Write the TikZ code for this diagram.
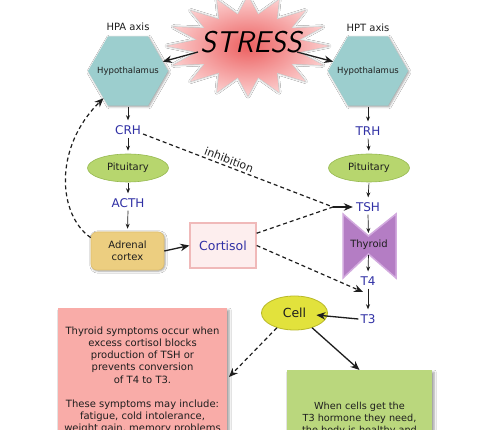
\documentclass[tikz,border=0pt]{standalone}
\usepackage{fontspec}
\setmainfont{DejaVu Sans}
\usetikzlibrary{arrows.meta,shapes.geometric,shadows.blur}
\definecolor{hexc}{RGB}{156,206,206}
\definecolor{pitc}{RGB}{183,214,110}
\definecolor{pitb}{RGB}{150,185,80}
\definecolor{adrc}{RGB}{236,206,128}
\definecolor{adrb}{RGB}{222,190,110}
\definecolor{cortf}{RGB}{253,238,238}
\definecolor{cortb}{RGB}{240,185,185}
\definecolor{thyc}{RGB}{180,125,196}
\definecolor{thyb}{RGB}{210,170,222}
\definecolor{cellc}{RGB}{226,226,60}
\definecolor{cellb}{RGB}{185,185,40}
\definecolor{pinkc}{RGB}{249,172,168}
\definecolor{greenc}{RGB}{186,215,125}
\definecolor{hormc}{RGB}{48,48,165}
\definecolor{txtc}{RGB}{30,30,30}
\definecolor{starin}{RGB}{236,96,96}
\definecolor{starout}{RGB}{252,208,208}
\begin{document}
\begin{tikzpicture}[x=1pt,y=-1pt,
  hexa/.style={regular polygon, regular polygon sides=6, minimum size=80pt, inner sep=0pt,
    fill=hexc, font=\fontsize{8.5}{10}\selectfont, text=txtc, blur shadow={shadow xshift=1pt, shadow yshift=-1pt}},
  horm/.style={font=\fontsize{12}{14}\selectfont, text=hormc, inner sep=2pt},
  axislbl/.style={font=\fontsize{10}{12}\selectfont, text=txtc},
  pit/.style={ellipse, minimum width=81pt, minimum height=28pt, inner sep=0pt, fill=pitc, draw=pitb,
    line width=0.6pt, font=\fontsize{10}{12}\selectfont, text=txtc},
  adrbox/.style={rectangle, rounded corners=6pt, minimum width=73pt, minimum height=38pt, fill=adrc, draw=adrb,
    line width=0.6pt, align=center, font=\fontsize{10}{12}\selectfont, text=txtc, blur shadow={shadow xshift=1pt, shadow yshift=-1pt}},
  cortbox/.style={rectangle, minimum width=66pt, minimum height=45pt, fill=cortf, draw=cortb, line width=1.3pt,
    font=\fontsize{12.5}{14}\selectfont, text=hormc},
  thylbl/.style={font=\fontsize{10}{12}\selectfont, text=txtc},
  cellnode/.style={ellipse, minimum width=66pt, minimum height=34pt, inner sep=0pt, fill=cellc, draw=cellb,
    line width=0.8pt, font=\fontsize{12.5}{14}\selectfont, text=txtc},
  bigbox/.style={rectangle, anchor=north, inner sep=0pt, blur shadow={shadow xshift=2pt, shadow yshift=-2pt}},
  boxtext/.style={anchor=north, align=center, inner sep=0pt, text=txtc},
  sarrow/.style={-{Stealth[length=5pt,width=4pt]}, line width=0.7pt, draw=txtc, shorten >=3pt, shorten <=1pt},
  barrow/.style={-{Stealth[length=9pt,width=7.5pt]}, line width=1.3pt, draw=txtc},
  darrow/.style={-{Stealth[length=9pt,width=7.5pt]}, dash pattern=on 4pt off 3pt, line width=1.2pt, draw=txtc},
  dline/.style={dash pattern=on 4pt off 3pt, line width=1.2pt, draw=txtc}
]
\useasboundingbox (0,0) rectangle (477,430);
\clip (0,0) rectangle (477,430);
\fill[white] (0,0) rectangle (477,430);

% star
\shade[inner color=starin, outer color=starout, blur shadow={shadow xshift=0pt, shadow yshift=0pt}]
  plot[samples at={0,...,31}] ({248+(81-29*mod(\x,2))*cos(\x*11.25+90)}, {46+(50-18*mod(\x,2))*sin(\x*11.25+90)}) -- cycle;
\node[font=\fontsize{30}{30}\sffamily\slshape, text=black] (stress) at (251,42) {STRESS};
\coordinate (sL) at (198,52);
\coordinate (sR) at (297,52);

% left axis
\node[axislbl] (hpaL) at (128,27) {HPA axis};
\node[hexa] (hpa) at (128,71) {\makebox[0pt]{Hypothalamus}};
\node[horm] (crh) at (128,130) {CRH};
\node[pit] (pitL) at (128,168) {Pituitary};
\node[horm] (acth) at (128,203) {ACTH};
\node[adrbox] (adr) at (127.5,251) {Adrenal\\cortex};
\node[cortbox] (cort) at (223,245.5) {Cortisol};

% right axis
\node[axislbl] (hptL) at (368,28) {HPT axis};
\node[hexa] (hpt) at (368,71) {\makebox[0pt]{Hypothalamus}};
\node[horm] (trh) at (368,131) {TRH};
\node[pit] (pitR) at (369,168) {Pituitary};
\node[horm] (tsh) at (368,207) {TSH};
\path[fill=thyc, draw=thyb, line width=1.5pt, line join=miter]
  (343,214) -- (368.5,236) -- (396,214) -- (396,278) -- (368.5,254) -- (343,278) -- cycle;
\coordinate (thytop) at (368.5,236);
\coordinate (thybot) at (368.5,254);
\node[thylbl] (thy) at (369,245) {Thyroid};
\node[horm] (t4) at (368,281) {T4};
\node[horm] (t3) at (368,319) {T3};
\node[cellnode] (cell) at (294.5,313) {Cell};

% boxes
\node[bigbox, fill=pinkc, minimum width=169pt, minimum height=180pt] (pink) at (142.5,308) {};
\node[boxtext, font=\fontsize{10}{12.2}\selectfont] (pinktxt) at (142.5,326.5)
  {Thyroid symptoms occur when\\excess cortisol blocks\\production of TSH or\\prevents conversion\\of T4 to T3.\\[12.2pt]These symptoms may include:\\fatigue, cold intolerance,\\weight gain, memory problems};
\node[bigbox, fill=greenc, minimum width=145pt, minimum height=120pt] (green) at (359.5,370) {};
\node[boxtext, font=\fontsize{9.7}{12.4}\selectfont] (greentxt) at (359.5,401.5)
  {When cells get the\\T3 hormone they need,\\the body is healthy and};

% solid small arrows
\draw[sarrow] (hpa.south) -- (crh.north);
\draw[sarrow] (crh.south) -- (pitL.north);
\draw[sarrow] (pitL.south) -- (acth.north);
\draw[sarrow] (acth.south) -- (adr.north);
\draw[sarrow] (hpt.south) -- (trh.north);
\draw[sarrow] (trh.south) -- (pitR.north);
\draw[sarrow] (pitR.south) -- (tsh.north);
\draw[sarrow] (tsh.south) -- (thytop);
\draw[sarrow] (thybot) -- (t4.north);
\draw[sarrow] (t4.south) -- (t3.north);

% bold arrows
\draw[barrow] (sL) -- (hpa.15);
\draw[barrow] (sR) -- (hpt.165);
\draw[barrow] (adr.east) -- (cort.west);
\draw[barrow, shorten >=22pt] (t3.west) -- (cell.center);
\draw[barrow] (cell.-40) -- (green.north);

% dashed
\draw[darrow] (adr.160) .. controls (58,215) and (53,148) .. (hpa.228);
\coordinate (join) at (333,207);
\draw[dline] (crh.-15) -- node[pos=0.44, sloped, above, inner sep=2pt, font=\fontsize{11}{12}\selectfont, text=txtc] (inhib) {inhibition} (join);
\draw[dline] (cort.20) -- (join);
\draw[barrow, shorten >=1pt] (join) -- (tsh.west);
\coordinate (t4in) at (363,292);
\draw[darrow] (cort.east) -- (t4in);
\coordinate (pinkin) at (229,377);
\draw[darrow] (cell.-140) -- (pinkin);
\end{tikzpicture}
\end{document}
